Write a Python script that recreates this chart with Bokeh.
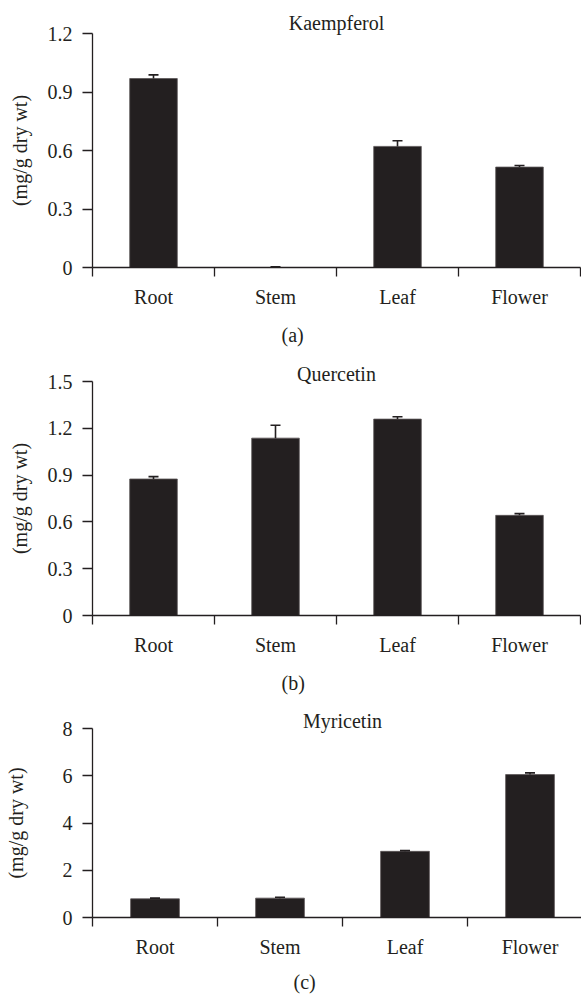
from bokeh.plotting import figure
from bokeh.models import (Range1d, FixedTicker, ColumnDataSource, Whisker, TeeHead, Title)
from bokeh.layouts import column
from bokeh.embed import file_html
from bokeh.resources import INLINE

categories = ["Root", "Stem", "Leaf", "Flower"]

kaempferol = [0.969, 0.0, 0.621, 0.515]
kaempferol_err = [0.019, 0.003, 0.029, 0.008]
kaempferol_ticks = [0, 0.3, 0.6, 0.9, 1.2]
kaempferol_tick_labels = ["0", "0.3", "0.6", "0.9", "1.2"]

quercetin = [0.875, 1.137, 1.259, 0.642]
quercetin_err = [0.015, 0.083, 0.015, 0.011]
quercetin_ticks = [0, 0.3, 0.6, 0.9, 1.2, 1.5]
quercetin_tick_labels = ["0", "0.3", "0.6", "0.9", "1.2", "1.5"]

myricetin = [0.79, 0.82, 2.80, 6.05]
myricetin_err = [0.03, 0.04, 0.03, 0.07]
myricetin_ticks = [0, 2, 4, 6, 8]
myricetin_tick_labels = ["0", "2", "4", "6", "8"]

panels = [
    dict(name="Kaempferol", tag="(a)", vals=kaempferol, errs=kaempferol_err,
         ticks=kaempferol_ticks, labels=kaempferol_tick_labels,
         top=33, fh=234, bottom=90, left=92, right=1, tag_dx=189, ylab_standoff=14,
         title_standoff=-3, tag_standoff=22),
    dict(name="Quercetin", tag="(b)", vals=quercetin, errs=quercetin_err,
         ticks=quercetin_ticks, labels=quercetin_tick_labels,
         top=24, fh=234, bottom=90, left=92, right=1, tag_dx=189, ylab_standoff=14,
         title_standoff=-9, tag_standoff=22),
    dict(name="Myricetin", tag="(c)", vals=myricetin, errs=myricetin_err,
         ticks=myricetin_ticks, labels=myricetin_tick_labels,
         top=23, fh=189, bottom=83, left=80, right=1, tag_dx=201, ylab_standoff=33,
         title_standoff=-9, tag_standoff=16),
]

FONT = "Liberation Serif"
INK = "#231f20"
W = 581

figs = []
for pn in panels:
    n = len(categories)
    xs = [i + 0.5 for i in range(n)]
    upper = [v + e for v, e in zip(pn["vals"], pn["errs"])]
    src = ColumnDataSource(dict(x=xs, top=pn["vals"], upper=upper))
    fw = W - pn["left"] - pn["right"]
    p = figure(frame_width=fw, frame_height=pn["fh"],
               min_border_left=pn["left"], min_border_right=pn["right"],
               min_border_top=pn["top"], min_border_bottom=pn["bottom"],
               x_range=Range1d(0, n), y_range=Range1d(pn["ticks"][0], pn["ticks"][-1]),
               output_backend="svg", toolbar_location=None)
    p.outline_line_color = None
    p.background_fill_color = "white"
    p.border_fill_color = "white"
    p.xgrid.visible = False
    p.ygrid.visible = False

    p.vbar(x="x", top="top", bottom=0, width=0.39, source=src,
           fill_color=INK, line_color="#5a5657", line_width=0.8)
    wh = Whisker(source=src, base="x", lower="top", upper="upper",
                 line_color=INK, line_width=1.6,
                 upper_head=TeeHead(size=10, line_color=INK, line_width=1.6),
                 lower_head=None, level="glyph")
    p.add_layout(wh)

    xa = p.xaxis[0]
    xa.ticker = FixedTicker(ticks=xs, minor_ticks=list(range(n + 1)))
    xa.major_label_overrides = {x: c for x, c in zip(xs, categories)}
    xa.major_tick_out = 0
    xa.major_tick_in = 0
    xa.minor_tick_out = 9
    xa.minor_tick_in = 0
    xa.minor_tick_line_color = INK
    xa.minor_tick_line_width = 1.3
    xa.axis_line_color = INK
    xa.axis_line_width = 1.3
    xa.major_label_text_font = FONT
    xa.major_label_text_font_size = "20px"
    xa.major_label_text_color = INK
    xa.major_label_standoff = 9

    ya = p.yaxis[0]
    ya.ticker = FixedTicker(ticks=pn["ticks"], minor_ticks=[])
    ya.major_label_overrides = {t: l for t, l in zip(pn["ticks"], pn["labels"])}
    ya.major_tick_out = 10
    ya.major_tick_in = 0
    ya.major_tick_line_color = INK
    ya.major_tick_line_width = 1.3
    ya.axis_line_color = INK
    ya.axis_line_width = 1.3
    ya.major_label_text_font = FONT
    ya.major_label_text_font_size = "20px"
    ya.major_label_text_color = INK
    ya.major_label_standoff = 10
    ya.axis_label = "(mg/g dry wt)"
    ya.axis_label_text_font = FONT
    ya.axis_label_text_font_style = "normal"
    ya.axis_label_text_font_size = "20px"
    ya.axis_label_text_color = INK
    ya.axis_label_standoff = pn["ylab_standoff"]

    p.add_layout(Title(text=pn["name"], align="center", standoff=pn["title_standoff"],
                       vertical_align="middle",
                       text_font=FONT, text_font_size="20px", text_font_style="normal",
                       text_color=INK), "above")
    p.add_layout(Title(text=pn["tag"], align="left", offset=pn["tag_dx"],
                       standoff=pn["tag_standoff"],
                       text_font=FONT, text_font_size="20px", text_font_style="normal",
                       text_color=INK), "below")
    figs.append(p)

layout = column(*figs, spacing=0)
open("out.html", "w").write(file_html(layout, INLINE))
